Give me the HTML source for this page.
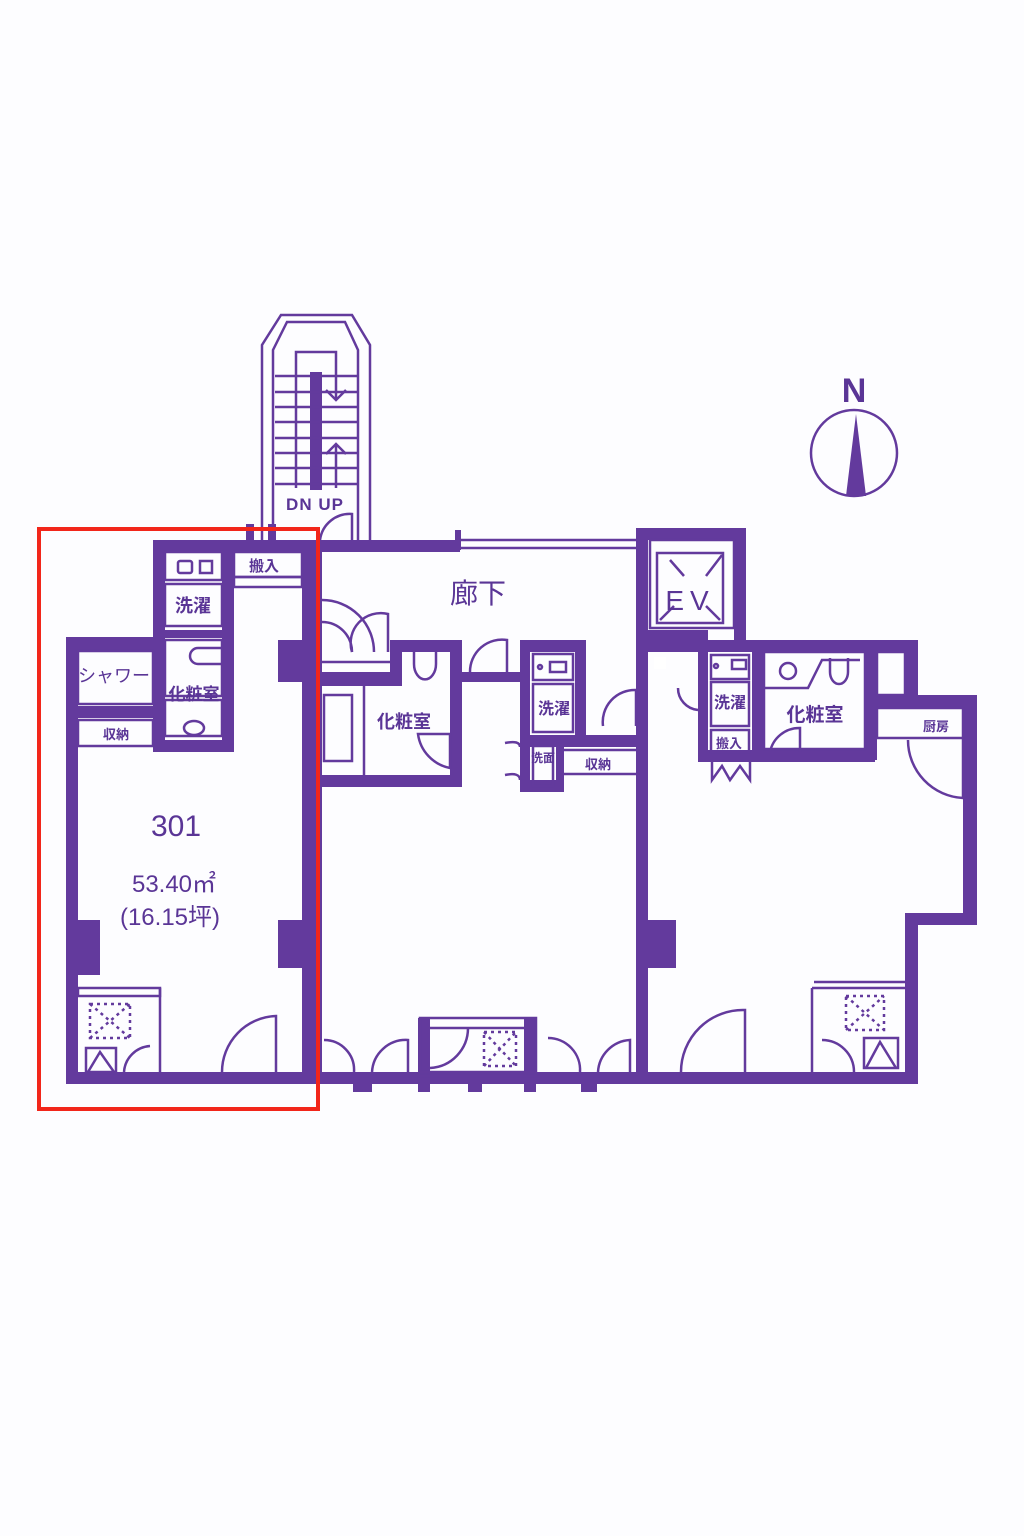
<!DOCTYPE html>
<html><head><meta charset="utf-8"><style>
html,body{margin:0;padding:0;background:#fdfdff;}
svg{display:block;}
text{font-family:"Liberation Sans","Noto Sans CJK JP",sans-serif;fill:#5a3596;}
</style></head><body>
<svg width="1024" height="1536" viewBox="0 0 1024 1536" xmlns="http://www.w3.org/2000/svg">
<rect width="1024" height="1536" fill="#fdfdff"/>
<g fill="#633a9d" stroke="none">
<!-- Unit 301 walls -->
<rect x="66" y="637" width="12" height="447"/>
<rect x="66" y="637" width="90" height="14"/>
<rect x="153" y="540" width="12" height="212"/>
<rect x="153" y="540" width="161" height="12"/>
<rect x="222" y="540" width="12" height="212"/>
<rect x="153" y="740" width="81" height="12"/>
<rect x="153" y="630" width="81" height="8"/>
<rect x="78" y="706" width="78" height="12"/>
<rect x="302" y="540" width="12" height="544"/>
<rect x="66" y="1072" width="248" height="12"/>
<rect x="78" y="920" width="22" height="55"/>
<rect x="278" y="920" width="24" height="48"/>
<rect x="278" y="640" width="24" height="42"/>
<rect x="246" y="524" width="8" height="18"/>
<rect x="268" y="524" width="8" height="18"/>
<rect x="148" y="1072" width="12" height="12"/>
<rect x="184" y="1072" width="36" height="12"/>
<!-- stair bar -->
<rect x="310" y="372" width="12" height="118"/>
<!-- corridor top -->
<rect x="314" y="540" width="146" height="12"/>
<rect x="455" y="530" width="6" height="20"/>
<!-- middle unit -->
<rect x="314" y="540" width="8" height="544"/>
<rect x="636" y="528" width="12" height="556"/>
<rect x="314" y="1072" width="326" height="12"/>
<rect x="353" y="1072" width="19" height="20"/>
<rect x="418" y="1018" width="12" height="74"/>
<rect x="468" y="1072" width="14" height="20"/>
<rect x="524" y="1018" width="12" height="74"/>
<rect x="581" y="1072" width="16" height="20"/>
<!-- bathroom block middle -->
<rect x="390" y="640" width="72" height="12"/>
<rect x="450" y="640" width="12" height="147"/>
<rect x="320" y="672" width="82" height="14"/>
<rect x="390" y="640" width="12" height="46"/>
<rect x="320" y="775" width="142" height="12"/>
<rect x="462" y="672" width="60" height="10"/>
<!-- washer block -->
<rect x="520" y="640" width="66" height="12"/>
<rect x="520" y="640" width="10" height="152"/>
<rect x="575" y="640" width="11" height="105"/>
<rect x="520" y="735" width="120" height="12"/>
<rect x="520" y="780" width="42" height="12"/>
<rect x="556" y="740" width="8" height="52"/>
<!-- EV -->
<rect x="638" y="528" width="108" height="12"/>
<rect x="734" y="528" width="12" height="124"/>
<rect x="638" y="630" width="70" height="22"/>
<!-- right unit -->
<rect x="648" y="640" width="270" height="12"/>
<rect x="905" y="640" width="13" height="58"/>
<rect x="865" y="640" width="12" height="120"/>
<rect x="875" y="695" width="102" height="12"/>
<rect x="963" y="695" width="14" height="230"/>
<rect x="905" y="913" width="72" height="12"/>
<rect x="905" y="913" width="13" height="171"/>
<rect x="648" y="1072" width="270" height="12"/>
<rect x="648" y="920" width="28" height="48"/>
<rect x="698" y="652" width="10" height="110"/>
<rect x="698" y="750" width="177" height="12"/>
<rect x="752" y="652" width="12" height="110"/>
<rect x="745" y="1072" width="42" height="12"/>
<rect x="812" y="1072" width="12" height="12"/>
</g>
<g fill="none" stroke="#633a9d" stroke-width="2.5">
<!-- stairs -->
<path d="M262 541 V345 L281 315 H352 L370 345 V541"/>
<path d="M273 541 V350 L287 322 H345 L358 350 V541"/>
<path d="M275 376 H358 M275 392 H358 M275 407 H358 M275 422 H358 M275 438 H358 M275 453 H358 M275 468 H358 M275 484 H358"/>
<path d="M296 488 V352 H336 V400 M326 390 L336 400 L346 390 M336 488 V444 M326 454 L336 444 L346 454"/>
<path d="M320 540 A30 30 0 0 1 352 514 V540"/>
<path d="M460 540 H640 M460 548 H640"/>
<!-- unit 301 fixtures -->
<rect x="165" y="552" width="57" height="28"/>
<rect x="165" y="584" width="57" height="42"/>
<rect x="165" y="640" width="57" height="56"/>
<rect x="165" y="700" width="57" height="36"/>
<rect x="234" y="552" width="68" height="25"/>
<rect x="234" y="577" width="68" height="10"/>
<rect x="78" y="651" width="75" height="53"/>
<rect x="78" y="720" width="75" height="26"/>
<rect x="178" y="561" width="14" height="12" rx="2"/>
<rect x="200" y="561" width="12" height="12"/>
<ellipse cx="194" cy="728" rx="10" ry="7"/>
<path d="M222 648 H198 A8 8 0 0 0 198 664 H222"/>
<rect x="78" y="988" width="82" height="8"/>
<path d="M160 988 V1072 M150 1046 A28 28 0 0 0 124 1072"/>
<rect x="86" y="1048" width="30" height="24"/>
<path d="M88 1072 L100 1052 L114 1072"/>
<g stroke-dasharray="3 4"><rect x="90" y="1004" width="40" height="34"/><path d="M90 1038 L130 1004 M90 1004 L130 1038"/></g>
<path d="M222 1072 A56 56 0 0 1 276 1016 V1072" />
<path d="M78 1076 H302 M78 1080 H302"/>
<!-- middle corridor doors -->
<path d="M322 600 A52 52 0 0 1 374 652 M322 622 A30 30 0 0 1 352 652 M352 652 A30 30 0 0 1 388 614 V652"/>
<path d="M322 662 H390"/>
<rect x="324" y="695" width="28" height="66"/>
<path d="M364 686 V775"/>
<path d="M414 652 V664 A10 14 0 0 0 436 664 V652"/>
<path d="M418 734 A40 40 0 0 0 450 768 V734 Z"/>
<path d="M470 672 A32 32 0 0 1 507 640 V672"/>
<rect x="533" y="654" width="40" height="26"/>
<circle cx="540" cy="667" r="2"/>
<rect x="550" y="662" width="16" height="10"/>
<path d="M533 684 H573 V732 H533 Z"/>
<rect x="533" y="746" width="20" height="40"/>
<path d="M564 750 H636 M564 774 H636"/>
<path d="M505 743 Q520 740 520 747 M505 775 Q520 772 520 780"/>
<path d="M603 726 A32 32 0 0 1 636 690 V726"/>
<!-- bottom doors middle -->
<path d="M322 1076 H636"/>
<path d="M324 1040 A30 30 0 0 1 354 1072 M372 1072 A34 34 0 0 1 408 1040 V1072"/>
<path d="M548 1038 A32 32 0 0 1 580 1072 M598 1072 A34 34 0 0 1 630 1040 V1072"/>
<rect x="420" y="1018" width="116" height="54"/>
<path d="M430 1028 H526 M430 1068 A40 40 0 0 0 468 1028"/>
<g stroke-dasharray="3 4"><rect x="484" y="1032" width="32" height="34"/><path d="M484 1066 L516 1032 M484 1032 L516 1066"/></g>
<!-- EV -->
<rect x="650" y="540" width="84" height="88"/>
<rect x="657" y="553" width="66" height="70"/>
<path d="M670 560 L684 576 M722 555 L706 576 M660 620 L674 606 M720 620 L706 606"/>
<path d="M640 572 V612"/>
<!-- right unit -->
<rect x="711" y="655" width="38" height="24"/>
<circle cx="716" cy="666" r="2"/>
<rect x="732" y="660" width="14" height="9"/>
<rect x="711" y="682" width="38" height="44"/>
<rect x="711" y="730" width="38" height="22"/>
<path d="M712 762 V780 L722 766 L730 780 L740 766 L750 780 V762"/>
<path d="M678 688 A22 22 0 0 0 698 710"/>
<rect x="764" y="652" width="101" height="97"/>
<path d="M764 688 H808 L822 660 H860"/>
<circle cx="788" cy="671" r="8"/>
<path d="M830 658 V672 A9 12 0 0 0 848 672 V658"/>
<path d="M770 752 A30 30 0 0 1 800 728 V752"/>
<rect x="877" y="652" width="28" height="43"/>
<rect x="877" y="708" width="86" height="30"/>
<path d="M908 740 A58 58 0 0 0 963 798 V738 M968 740 V798"/>
<path d="M681 1072 A62 62 0 0 1 745 1010 V1072"/>
<path d="M812 988 H905 M814 982 H905 M812 988 V1072"/>
<path d="M822 1040 A32 32 0 0 1 854 1072"/>
<rect x="864" y="1038" width="34" height="30"/>
<path d="M866 1068 L880 1042 L896 1068"/>
<g stroke-dasharray="3 4"><rect x="846" y="996" width="38" height="34"/><path d="M846 1030 L884 996 M846 996 L884 1030"/></g>
<path d="M660 1076 H905"/>
<!-- compass -->
<circle cx="854" cy="453" r="43"/>
</g>
<path d="M856 414 L846 496 L866 496 Z" fill="#633a9d"/>
<text x="854" y="402" font-family="Liberation Serif,serif" font-size="34" font-weight="bold" text-anchor="middle">N</text>
<rect x="654" y="657" width="12" height="12" fill="#fff"/>
<!-- labels -->
<text x="315" y="510" font-size="17" font-weight="bold" text-anchor="middle" letter-spacing="1">DN UP</text>
<text x="478" y="603" font-size="28" text-anchor="middle">廊下</text>
<text x="690" y="610" font-size="28" text-anchor="middle" letter-spacing="6">EV</text>
<text x="264" y="571" font-size="15" font-weight="bold" text-anchor="middle">搬入</text>
<text x="193" y="612" font-size="18" font-weight="bold" text-anchor="middle">洗濯</text>
<text x="114" y="682" font-size="18" text-anchor="middle">シャワー</text>
<text x="194" y="700" font-size="17" font-weight="bold" text-anchor="middle">化粧室</text>
<text x="116" y="739" font-size="13" font-weight="bold" text-anchor="middle">収納</text>
<text x="176" y="836" font-size="30" text-anchor="middle">301</text>
<text x="174" y="892" font-size="24" text-anchor="middle">53.40㎡</text>
<text x="170" y="925" font-size="24" text-anchor="middle">(16.15坪)</text>
<text x="404" y="728" font-size="18" font-weight="bold" text-anchor="middle">化粧室</text>
<text x="554" y="714" font-size="16" font-weight="bold" text-anchor="middle">洗濯</text>
<text x="598" y="769" font-size="13" font-weight="bold" text-anchor="middle">収納</text>
<text x="543" y="762" font-size="12" font-weight="bold" text-anchor="middle">洗面</text>
<text x="730" y="708" font-size="16" font-weight="bold" text-anchor="middle">洗濯</text>
<text x="729" y="748" font-size="13" font-weight="bold" text-anchor="middle">搬入</text>
<text x="815" y="721" font-size="19" font-weight="bold" text-anchor="middle">化粧室</text>
<text x="936" y="731" font-size="13" font-weight="bold" text-anchor="middle">厨房</text>
<!-- red frame -->
<rect x="39" y="529" width="279" height="580" fill="none" stroke="#f2261a" stroke-width="4"/>
</svg>
</body></html>
